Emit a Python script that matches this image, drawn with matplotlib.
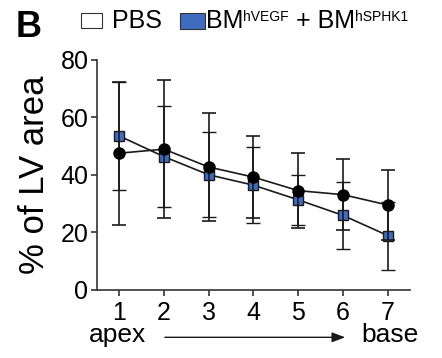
import numpy as np
import matplotlib
matplotlib.use("Agg")
import matplotlib.pyplot as plt
from matplotlib.patches import Rectangle, FancyArrowPatch

plt.rcParams['font.family'] = ['Liberation Sans', 'DejaVu Sans']

# segment number, apex -> base
segments = [1, 2, 3, 4, 5, 6, 7]

# PBS (black circles)
pbs_mean = [47.5, 48.9, 42.7, 39.2, 34.5, 33.1, 29.5]
pbs_sd = [24.8, 24.0, 18.7, 14.1, 13.0, 12.4, 12.2]

# BM hVEGF + BM hSPHK1 (blue squares)
bm_mean = [53.5, 46.3, 40.0, 36.4, 31.3, 25.9, 18.9]
bm_sd = [18.8, 17.6, 14.8, 13.1, 8.7, 11.7, 11.8]

blue = '#3f6cbf'
ink = '#1a1a1a'

fig = plt.figure(figsize=(4.42, 3.58), dpi=100)
ax = fig.add_axes([0.219, 0.190, 0.709, 0.6435])

ax.errorbar(segments, bm_mean, yerr=bm_sd, color=ink, lw=1.2,
            marker='s', ms=7.5, mfc=blue, mec=ink, mew=1.0,
            ecolor=ink, elinewidth=1.2, capsize=5, capthick=1.2, zorder=2)
ax.errorbar(segments, pbs_mean, yerr=pbs_sd, color=ink, lw=1.2,
            marker='o', ms=8, mfc='black', mec='black',
            ecolor=ink, elinewidth=1.2, capsize=5, capthick=1.2, zorder=3)

ax.set_xlim(0.5, 7.5)
ax.set_ylim(0, 80)
ax.set_xticks(segments)
ax.set_yticks([0, 20, 40, 60, 80])
ax.spines['top'].set_visible(False)
ax.spines['right'].set_visible(False)
for s in ['left', 'bottom']:
    ax.spines[s].set_linewidth(1.2)
    ax.spines[s].set_color('#333333')
ax.tick_params(axis='both', labelsize=18, width=1.2, length=4, color='#333333')
ax.tick_params(axis='y', pad=2)
ax.tick_params(axis='x', pad=4)
ax.set_ylabel('% of LV area', fontsize=25, labelpad=7)

# panel letter
fig.text(0.036, 0.898, 'B', fontsize=26, fontweight='bold')

# legend, built by hand
fig.add_artist(Rectangle((0.1826, 0.921), 0.048, 0.042, transform=fig.transFigure,
                         facecolor='white', edgecolor='#333333', lw=0.8))
fig.add_artist(Rectangle((0.407, 0.918), 0.0566, 0.0464, transform=fig.transFigure,
                         facecolor=blue, edgecolor='#333333', lw=0.8))
fig.text(0.2527, 0.921, 'PBS', fontsize=18, va='baseline')
t = fig.text(0.465, 0.921, 'BM', fontsize=18, va='baseline')
pieces = [('hVEGF', 10, 7), (' + BM', 18, 0), ('hSPHK1', 10, 7)]
prev, prev_rise = t, 0
for s, size, rise in pieces:
    prev = ax.annotate(s, xy=(1, 0), xycoords=prev, xytext=(0, rise - prev_rise),
                       textcoords='offset points', fontsize=size,
                       va='bottom', ha='left', annotation_clip=False)
    prev_rise = rise

# apex -> base
fig.text(0.201, 0.045, 'apex', fontsize=19, ha='left', va='baseline')
fig.text(0.947, 0.045, 'base', fontsize=19, ha='right', va='baseline')
fig.add_artist(FancyArrowPatch(
    (0.373, 0.0578), (0.781, 0.0578), transform=fig.transFigure,
    arrowstyle='-|>,head_length=8,head_width=3', lw=1.0, color=ink,
    shrinkA=0, shrinkB=0))

fig.savefig('out.png', dpi=100)
